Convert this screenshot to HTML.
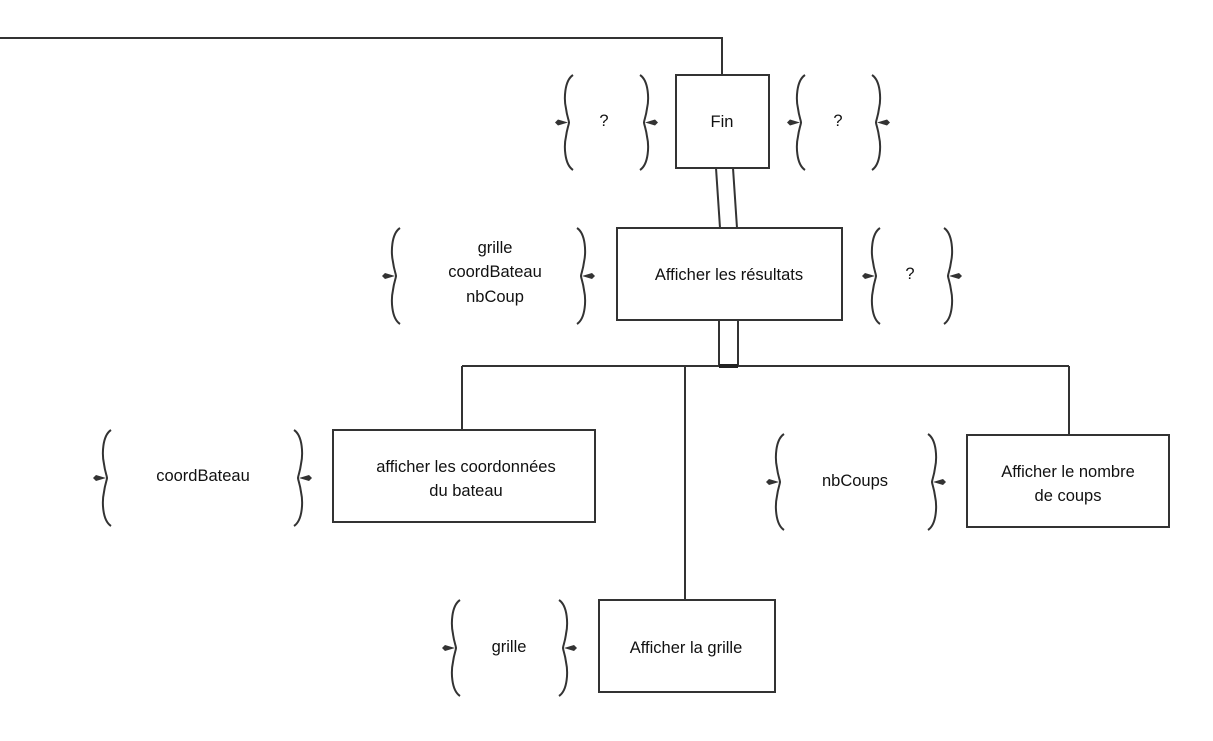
<!DOCTYPE html>
<html><head><meta charset="utf-8"><style>
html,body{margin:0;padding:0;background:#fff;}
svg{display:block;}
text{font-family:"Liberation Sans","DejaVu Sans",sans-serif;font-size:16.5px;fill:#111;}
</style></head><body>
<svg id="s" width="1213" height="741" xmlns="http://www.w3.org/2000/svg">
<g stroke="#333" stroke-width="2" fill="none">
<polyline points="0,38 722,38 722,75"/>
<rect x="676" y="75" width="93" height="93"/>
<polygon points="716,168 733,168 737,228 720,228"/>
<rect x="617" y="228" width="225" height="92"/>
<rect x="719" y="320" width="19" height="46"/>
<line x1="462" y1="366" x2="1069" y2="366"/>
<line x1="462" y1="366" x2="462" y2="430"/>
<line x1="685" y1="366" x2="685" y2="600"/>
<line x1="1069" y1="366" x2="1069" y2="435"/>
<rect x="333" y="430" width="262" height="92"/>
<rect x="967" y="435" width="202" height="92"/>
<rect x="599" y="600" width="176" height="92"/>
</g>
<line x1="719" y1="366" x2="738" y2="366" stroke="#222" stroke-width="4"/>
<g id="br" stroke="#333" stroke-width="2" fill="none"></g>
<g id="ar" fill="#333"></g>
<g text-anchor="middle">
<text x="722" y="127">Fin</text>
<text x="604" y="126">?</text>
<text x="838" y="126">?</text>
<text x="729" y="280">Afficher les résultats</text>
<text x="495" y="253">grille</text>
<text x="495" y="277">coordBateau</text>
<text x="495" y="302">nbCoup</text>
<text x="910" y="279">?</text>
<text x="466" y="472">afficher les coordonnées</text>
<text x="466" y="496">du bateau</text>
<text x="203" y="481">coordBateau</text>
<text x="1068" y="477">Afficher le nombre</text>
<text x="1068" y="501">de coups</text>
<text x="855" y="486">nbCoups</text>
<text x="686" y="653">Afficher la grille</text>
<text x="509" y="652">grille</text>
</g>
</svg>
<script>
var br=document.getElementById('br'),ar=document.getElementById('ar');
function brace(b,y1,y2,open){
 var d=open?1:-1,m=(y1+y2)/2,e=b+7*d,t=b+3*d;
 var p='M'+e+' '+y1+' C'+(b-2*d)+' '+(y1+6)+','+(b-2*d)+' '+(y1+25)+','+b+' '+(m-14)+' C'+(b+1*d)+' '+(m-6)+','+t+' '+(m-2)+','+t+' '+m+' C'+t+' '+(m+2)+','+(b+1*d)+' '+(m+6)+','+b+' '+(m+14)+' C'+(b-2*d)+' '+(y2-25)+','+(b-2*d)+' '+(y2-6)+','+e+' '+y2;
 var pe=document.createElementNS('http://www.w3.org/2000/svg','path');pe.setAttribute('d',p);br.appendChild(pe);
 var a=document.createElementNS('http://www.w3.org/2000/svg','path');
 var x0=t-1*d,x1=t-14*d;
 a.setAttribute('d','M'+x0+' '+m+' L'+(x1+3*d)+' '+(m-3)+' L'+x1+' '+m+' L'+(x1+3*d)+' '+(m+3)+' Z');ar.appendChild(a);
}
brace(566,75,170,true);brace(647,75,170,false);
brace(798,75,170,true);brace(879,75,170,false);
brace(393,228,324,true);brace(584,228,324,false);
brace(873,228,324,true);brace(951,228,324,false);
brace(104,430,526,true);brace(301,430,526,false);
brace(777,434,530,true);brace(935,434,530,false);
brace(453,600,696,true);brace(566,600,696,false);
</script>
</body></html>
